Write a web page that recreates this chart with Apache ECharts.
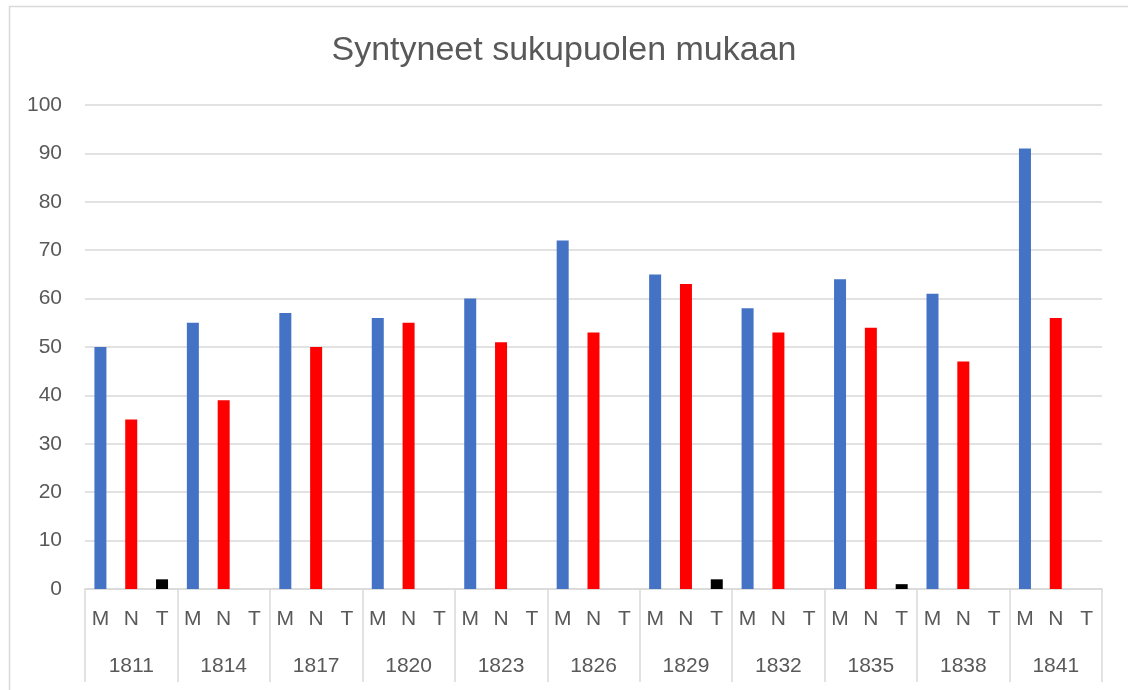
<!DOCTYPE html>
<html>
<head>
<meta charset="utf-8">
<script src="https://cdn.jsdelivr.net/npm/echarts@6/dist/echarts.min.js"></script>
<style>html,body{margin:0;padding:0;background:#fff}#c{width:1128px;height:690px}</style>
</head>
<body>
<div id="c"></div>
<script>
const years = ['1811','1814','1817','1820','1823','1826','1829','1832','1835','1838','1841'];
const subLabels = ['M','N','T'];
const valuesM = [50,55,57,56,60,72,65,58,64,61,91];
const valuesN = [35,39,50,55,51,53,63,53,54,47,56];
const valuesT = [2,0,0,0,0,0,2,0,1,0,0];
const yTicks = {min:0, max:100, interval:10};

const cats = [];
years.forEach(() => subLabels.forEach(s => cats.push(s)));
function spread(vals, pos){
  const out = new Array(cats.length).fill(null);
  vals.forEach((v,i)=>{ out[i*3+pos] = v; });
  return out;
}
const txt = '#595959', line = '#d9d9d9', font = 'Liberation Sans';
const chart = echarts.init(document.getElementById('c'));
chart.setOption({
  animation:false,
  textStyle:{fontFamily:font},
  title:{text:'Syntyneet sukupuolen mukaan', left:'center', top:29,
    textStyle:{fontFamily:font, fontSize:34, fontWeight:'normal', color:txt}},
  graphic:[{type:'rect', shape:{x:9.5,y:6.5,width:1200,height:800}, style:{fill:'none', stroke:line, lineWidth:1.5}, silent:true}],
  grid:{left:85, right:26, top:105, bottom:101},
  xAxis:[
    {type:'category', data:cats, axisLine:{lineStyle:{color:line, width:1.5}}, axisTick:{show:false},
     axisLabel:{interval:0, fontSize:21, color:txt, margin:20, fontFamily:font}},
    {type:'category', data:years, position:'bottom', axisLine:{show:false},
     axisTick:{show:true, length:93, interval:0, lineStyle:{color:line, width:1.5}},
     axisLabel:{interval:0, fontSize:21, color:txt, margin:67, fontFamily:font}}
  ],
  yAxis:{type:'value', min:yTicks.min, max:yTicks.max, interval:yTicks.interval,
    axisLine:{show:false}, axisTick:{show:false},
    splitLine:{lineStyle:{color:line, width:1.5}},
    axisLabel:{fontSize:21, color:txt, margin:23, fontFamily:font}},
  series:[
    {name:'M', type:'bar', xAxisIndex:0, data:spread(valuesM,0), barWidth:12, barGap:'-100%', itemStyle:{color:'#4472C4'}},
    {name:'N', type:'bar', xAxisIndex:0, data:spread(valuesN,1), barWidth:12, barGap:'-100%', itemStyle:{color:'#FF0000'}},
    {name:'T', type:'bar', xAxisIndex:0, data:spread(valuesT,2), barWidth:12, barGap:'-100%', itemStyle:{color:'#000000'}}
  ]
});
</script>
</body>
</html>
